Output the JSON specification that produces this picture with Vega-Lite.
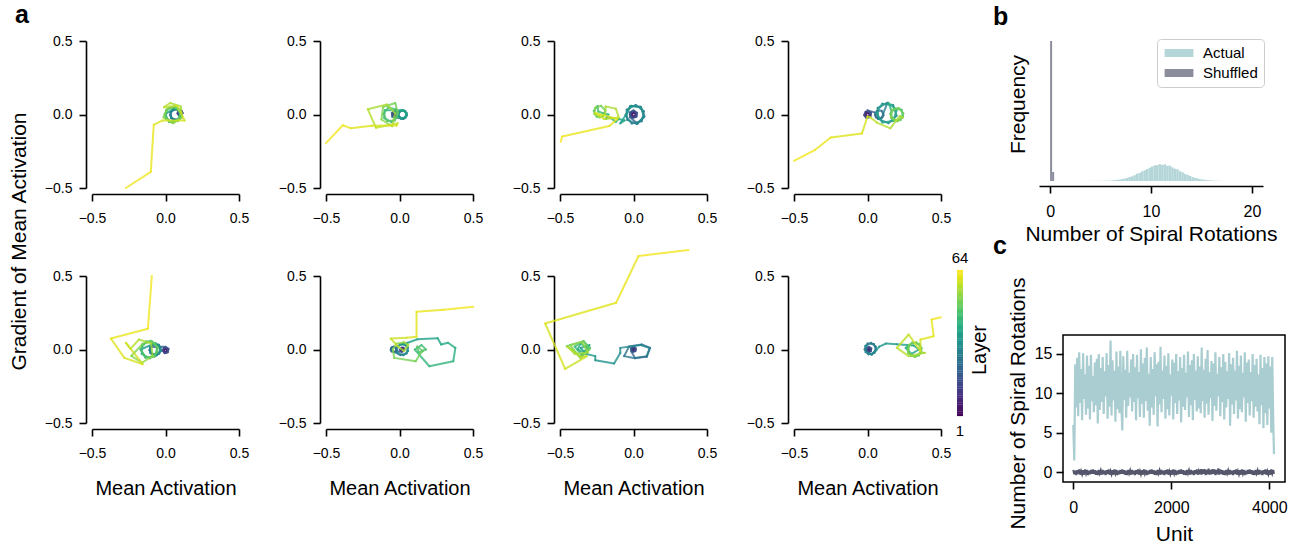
{
"$schema":"https://vega.github.io/schema/vega-lite/v6.json",
"background":"white",
"padding":{"left":8,"top":3,"right":5,"bottom":5},
"config":{
 "font":"Liberation Sans",
 "view":{"stroke":null},
 "axis":{"domainColor":"#000","domainWidth":1.6,"tickColor":"#000","tickWidth":1.6,"tickSize":7,"labelFontSize":14,"labelColor":"#000","titleFontSize":21,"titleFontWeight":"normal","titleColor":"#000","grid":false,"labelFont":"Liberation Sans","titleFont":"Liberation Sans","labelFlush":false},
 "axisX":{"labelPadding":10},
 "axisY":{"labelPadding":7},
 "title":{"fontSize":25,"fontWeight":"bold","anchor":"start","frame":"group","font":"Liberation Sans","color":"#000"}
},
"resolve":{"scale":{"color":"independent"}},
"datasets":{
"traj":[
{"p":1,"l":1,"x":0.103,"y":0.018},{"p":1,"l":2,"x":0.094,"y":0.017},{"p":1,"l":3,"x":0.090,"y":0.008},{"p":1,"l":4,"x":0.098,"y":-0.001},{"p":1,"l":5,"x":0.110,"y":0.003},{"p":1,"l":6,"x":0.111,"y":0.017},{"p":1,"l":7,"x":0.099,"y":0.024},{"p":1,"l":8,"x":0.087,"y":0.015},{"p":1,"l":9,"x":0.089,"y":-0.001},{"p":1,"l":10,"x":0.106,"y":-0.006},{"p":1,"l":11,"x":0.117,"y":0.009},{"p":1,"l":12,"x":0.109,"y":0.026},{"p":1,"l":13,"x":0.089,"y":0.026},{"p":1,"l":14,"x":0.081,"y":0.007},{"p":1,"l":15,"x":0.095,"y":-0.010},{"p":1,"l":16,"x":0.101,"y":-0.026},{"p":1,"l":17,"x":0.106,"y":0.017},{"p":1,"l":18,"x":0.070,"y":0.040},{"p":1,"l":19,"x":0.034,"y":0.017},{"p":1,"l":20,"x":0.039,"y":-0.026},{"p":1,"l":21,"x":0.080,"y":-0.039},{"p":1,"l":22,"x":0.109,"y":-0.007},{"p":1,"l":23,"x":0.093,"y":0.033},{"p":1,"l":24,"x":0.050,"y":0.035},{"p":1,"l":25,"x":0.030,"y":-0.004},{"p":1,"l":26,"x":0.056,"y":-0.038},{"p":1,"l":27,"x":0.098,"y":-0.028},{"p":1,"l":28,"x":0.108,"y":0.014},{"p":1,"l":29,"x":0.074,"y":0.040},{"p":1,"l":30,"x":0.035,"y":0.020},{"p":1,"l":31,"x":0.037,"y":-0.023},{"p":1,"l":32,"x":0.077,"y":-0.039},{"p":1,"l":33,"x":0.109,"y":-0.010},{"p":1,"l":34,"x":0.096,"y":0.031},{"p":1,"l":35,"x":0.053,"y":0.036},{"p":1,"l":36,"x":-0.005,"y":0.000},{"p":1,"l":37,"x":0.027,"y":-0.050},{"p":1,"l":38,"x":0.085,"y":-0.042},{"p":1,"l":39,"x":0.103,"y":0.014},{"p":1,"l":40,"x":0.059,"y":0.054},{"p":1,"l":41,"x":0.005,"y":0.031},{"p":1,"l":42,"x":0.002,"y":-0.028},{"p":1,"l":43,"x":0.055,"y":-0.055},{"p":1,"l":44,"x":0.102,"y":-0.019},{"p":1,"l":45,"x":0.089,"y":0.039},{"p":1,"l":46,"x":0.031,"y":0.052},{"p":1,"l":47,"x":-0.005,"y":0.005},{"p":1,"l":48,"x":0.023,"y":-0.048},{"p":1,"l":49,"x":0.081,"y":-0.045},{"p":1,"l":50,"x":0.104,"y":0.009},{"p":1,"l":51,"x":0.064,"y":0.053},{"p":1,"l":52,"x":0.008,"y":0.035},{"p":1,"l":53,"x":-0.014,"y":-0.019},{"p":1,"l":54,"x":0.050,"y":-0.060},{"p":1,"l":55,"x":0.114,"y":-0.019},{"p":1,"l":56,"x":0.104,"y":0.055},{"p":1,"l":57,"x":0.032,"y":0.078},{"p":1,"l":58,"x":-0.010,"y":0.050},{"p":1,"l":59,"x":0.080,"y":0.060},{"p":1,"l":60,"x":0.130,"y":-0.040},{"p":1,"l":61,"x":-0.020,"y":-0.040},{"p":1,"l":62,"x":-0.080,"y":-0.070},{"p":1,"l":63,"x":-0.100,"y":-0.390},{"p":1,"l":64,"x":-0.270,"y":-0.500},
{"p":2,"l":1,"x":-0.027,"y":0.008},{"p":2,"l":2,"x":-0.036,"y":0.007},{"p":2,"l":3,"x":-0.040,"y":-0.003},{"p":2,"l":4,"x":-0.032,"y":-0.011},{"p":2,"l":5,"x":-0.020,"y":-0.007},{"p":2,"l":6,"x":-0.019,"y":0.006},{"p":2,"l":7,"x":-0.031,"y":0.014},{"p":2,"l":8,"x":-0.044,"y":0.005},{"p":2,"l":9,"x":-0.041,"y":-0.011},{"p":2,"l":10,"x":-0.025,"y":-0.015},{"p":2,"l":11,"x":-0.013,"y":-0.001},{"p":2,"l":12,"x":-0.021,"y":0.016},{"p":2,"l":13,"x":-0.041,"y":0.016},{"p":2,"l":14,"x":-0.049,"y":-0.003},{"p":2,"l":15,"x":-0.035,"y":-0.020},{"p":2,"l":16,"x":-0.014,"y":-0.014},{"p":2,"l":17,"x":-0.009,"y":0.009},{"p":2,"l":18,"x":-0.030,"y":0.023},{"p":2,"l":19,"x":-0.052,"y":0.010},{"p":2,"l":20,"x":-0.049,"y":-0.016},{"p":2,"l":21,"x":0.028,"y":-0.029},{"p":2,"l":22,"x":0.049,"y":-0.005},{"p":2,"l":23,"x":0.037,"y":0.025},{"p":2,"l":24,"x":0.005,"y":0.026},{"p":2,"l":25,"x":-0.010,"y":-0.003},{"p":2,"l":26,"x":0.010,"y":-0.028},{"p":2,"l":27,"x":0.041,"y":-0.021},{"p":2,"l":28,"x":0.048,"y":0.010},{"p":2,"l":29,"x":0.023,"y":0.030},{"p":2,"l":30,"x":-0.006,"y":0.015},{"p":2,"l":31,"x":-0.005,"y":-0.017},{"p":2,"l":32,"x":0.025,"y":-0.029},{"p":2,"l":33,"x":0.049,"y":-0.008},{"p":2,"l":34,"x":0.039,"y":0.023},{"p":2,"l":35,"x":0.007,"y":0.027},{"p":2,"l":36,"x":-0.010,"y":0.000},{"p":2,"l":37,"x":0.007,"y":-0.027},{"p":2,"l":38,"x":0.039,"y":-0.023},{"p":2,"l":39,"x":0.049,"y":0.008},{"p":2,"l":40,"x":0.025,"y":0.029},{"p":2,"l":41,"x":-0.101,"y":0.029},{"p":2,"l":42,"x":-0.104,"y":-0.025},{"p":2,"l":43,"x":-0.056,"y":-0.050},{"p":2,"l":44,"x":-0.013,"y":-0.017},{"p":2,"l":45,"x":-0.025,"y":0.036},{"p":2,"l":46,"x":-0.077,"y":0.047},{"p":2,"l":47,"x":-0.110,"y":0.005},{"p":2,"l":48,"x":-0.085,"y":-0.044},{"p":2,"l":49,"x":-0.032,"y":-0.041},{"p":2,"l":50,"x":-0.011,"y":0.009},{"p":2,"l":51,"x":-0.029,"y":0.078},{"p":2,"l":52,"x":-0.112,"y":0.051},{"p":2,"l":53,"x":-0.123,"y":-0.034},{"p":2,"l":54,"x":-0.050,"y":-0.080},{"p":2,"l":55,"x":-0.030,"y":0.010},{"p":2,"l":56,"x":-0.086,"y":0.068},{"p":2,"l":57,"x":-0.216,"y":0.036},{"p":2,"l":58,"x":-0.160,"y":-0.090},{"p":2,"l":59,"x":-0.012,"y":-0.060},{"p":2,"l":60,"x":-0.020,"y":-0.075},{"p":2,"l":61,"x":-0.190,"y":-0.077},{"p":2,"l":62,"x":-0.333,"y":-0.093},{"p":2,"l":63,"x":-0.386,"y":-0.073},{"p":2,"l":64,"x":-0.500,"y":-0.195},
{"p":3,"l":1,"x":0.004,"y":0.009},{"p":3,"l":2,"x":-0.007,"y":0.009},{"p":3,"l":3,"x":-0.012,"y":-0.003},{"p":3,"l":4,"x":-0.002,"y":-0.013},{"p":3,"l":5,"x":0.012,"y":-0.008},{"p":3,"l":6,"x":0.013,"y":0.008},{"p":3,"l":7,"x":-0.002,"y":0.016},{"p":3,"l":8,"x":-0.016,"y":0.006},{"p":3,"l":9,"x":-0.013,"y":-0.013},{"p":3,"l":10,"x":0.007,"y":-0.018},{"p":3,"l":11,"x":0.021,"y":-0.002},{"p":3,"l":12,"x":0.011,"y":0.019},{"p":3,"l":13,"x":-0.013,"y":0.019},{"p":3,"l":14,"x":-0.023,"y":-0.004},{"p":3,"l":15,"x":-0.007,"y":-0.024},{"p":3,"l":16,"x":0.020,"y":-0.016},{"p":3,"l":17,"x":0.024,"y":0.012},{"p":3,"l":18,"x":0.000,"y":0.028},{"p":3,"l":19,"x":-0.026,"y":0.013},{"p":3,"l":20,"x":-0.023,"y":-0.019},{"p":3,"l":21,"x":0.027,"y":-0.063},{"p":3,"l":22,"x":0.074,"y":-0.011},{"p":3,"l":23,"x":0.047,"y":0.053},{"p":3,"l":24,"x":-0.023,"y":0.057},{"p":3,"l":25,"x":-0.055,"y":-0.006},{"p":3,"l":26,"x":-0.012,"y":-0.061},{"p":3,"l":27,"x":0.056,"y":-0.046},{"p":3,"l":28,"x":0.071,"y":0.022},{"p":3,"l":29,"x":0.016,"y":0.065},{"p":3,"l":30,"x":-0.047,"y":0.033},{"p":3,"l":31,"x":-0.043,"y":-0.037},{"p":3,"l":32,"x":0.021,"y":-0.064},{"p":3,"l":33,"x":0.073,"y":-0.017},{"p":3,"l":34,"x":0.052,"y":0.050},{"p":3,"l":35,"x":-0.017,"y":0.059},{"p":3,"l":36,"x":-0.050,"y":0.000},{"p":3,"l":37,"x":-0.090,"y":-0.060},{"p":3,"l":38,"x":-0.060,"y":-0.040},{"p":3,"l":39,"x":-0.100,"y":-0.030},{"p":3,"l":40,"x":-0.120,"y":-0.050},{"p":3,"l":41,"x":-0.160,"y":-0.020},{"p":3,"l":42,"x":-0.190,"y":-0.030},{"p":3,"l":43,"x":-0.170,"y":0.000},{"p":3,"l":44,"x":-0.210,"y":0.010},{"p":3,"l":45,"x":-0.240,"y":0.020},{"p":3,"l":46,"x":-0.244,"y":0.058},{"p":3,"l":47,"x":-0.270,"y":0.024},{"p":3,"l":48,"x":-0.250,"y":-0.015},{"p":3,"l":49,"x":-0.207,"y":-0.013},{"p":3,"l":50,"x":-0.191,"y":0.027},{"p":3,"l":51,"x":-0.220,"y":0.059},{"p":3,"l":52,"x":-0.261,"y":0.046},{"p":3,"l":53,"x":-0.266,"y":0.003},{"p":3,"l":54,"x":-0.230,"y":-0.020},{"p":3,"l":55,"x":-0.194,"y":0.003},{"p":3,"l":56,"x":-0.190,"y":0.054},{"p":3,"l":57,"x":-0.120,"y":0.040},{"p":3,"l":58,"x":-0.100,"y":-0.020},{"p":3,"l":59,"x":-0.200,"y":-0.030},{"p":3,"l":60,"x":-0.260,"y":0.010},{"p":3,"l":61,"x":-0.110,"y":-0.030},{"p":3,"l":62,"x":-0.165,"y":-0.078},{"p":3,"l":63,"x":-0.485,"y":-0.150},{"p":3,"l":64,"x":-0.496,"y":-0.186},
{"p":4,"l":1,"x":0.004,"y":0.009},{"p":4,"l":2,"x":-0.007,"y":0.009},{"p":4,"l":3,"x":-0.012,"y":-0.003},{"p":4,"l":4,"x":-0.002,"y":-0.013},{"p":4,"l":5,"x":0.012,"y":-0.008},{"p":4,"l":6,"x":0.013,"y":0.008},{"p":4,"l":7,"x":-0.002,"y":0.016},{"p":4,"l":8,"x":-0.016,"y":0.006},{"p":4,"l":9,"x":-0.013,"y":-0.013},{"p":4,"l":10,"x":0.007,"y":-0.018},{"p":4,"l":11,"x":0.021,"y":-0.002},{"p":4,"l":12,"x":0.011,"y":0.019},{"p":4,"l":13,"x":-0.013,"y":0.019},{"p":4,"l":14,"x":-0.023,"y":-0.004},{"p":4,"l":15,"x":-0.007,"y":-0.024},{"p":4,"l":16,"x":0.020,"y":-0.016},{"p":4,"l":17,"x":0.024,"y":0.012},{"p":4,"l":18,"x":0.000,"y":0.028},{"p":4,"l":19,"x":0.053,"y":0.013},{"p":4,"l":20,"x":0.057,"y":-0.019},{"p":4,"l":21,"x":0.088,"y":-0.029},{"p":4,"l":22,"x":0.109,"y":-0.005},{"p":4,"l":23,"x":0.097,"y":0.025},{"p":4,"l":24,"x":0.065,"y":0.026},{"p":4,"l":25,"x":0.050,"y":-0.003},{"p":4,"l":26,"x":0.070,"y":-0.028},{"p":4,"l":27,"x":0.101,"y":-0.021},{"p":4,"l":28,"x":0.108,"y":0.010},{"p":4,"l":29,"x":0.136,"y":0.080},{"p":4,"l":30,"x":0.069,"y":0.045},{"p":4,"l":31,"x":0.073,"y":-0.030},{"p":4,"l":32,"x":0.142,"y":-0.059},{"p":4,"l":33,"x":0.198,"y":-0.008},{"p":4,"l":34,"x":0.175,"y":0.064},{"p":4,"l":35,"x":0.101,"y":0.074},{"p":4,"l":36,"x":0.060,"y":0.010},{"p":4,"l":37,"x":0.101,"y":-0.054},{"p":4,"l":38,"x":0.175,"y":-0.044},{"p":4,"l":39,"x":0.198,"y":0.028},{"p":4,"l":40,"x":0.142,"y":0.079},{"p":4,"l":41,"x":0.163,"y":0.026},{"p":4,"l":42,"x":0.161,"y":-0.023},{"p":4,"l":43,"x":0.204,"y":-0.045},{"p":4,"l":44,"x":0.242,"y":-0.015},{"p":4,"l":45,"x":0.232,"y":0.032},{"p":4,"l":46,"x":0.185,"y":0.042},{"p":4,"l":47,"x":0.155,"y":0.004},{"p":4,"l":48,"x":0.178,"y":-0.039},{"p":4,"l":49,"x":0.226,"y":-0.037},{"p":4,"l":50,"x":0.244,"y":0.008},{"p":4,"l":51,"x":0.212,"y":0.044},{"p":4,"l":52,"x":0.165,"y":0.029},{"p":4,"l":53,"x":0.159,"y":-0.019},{"p":4,"l":54,"x":0.200,"y":-0.045},{"p":4,"l":55,"x":0.241,"y":-0.019},{"p":4,"l":56,"x":0.220,"y":-0.010},{"p":4,"l":57,"x":0.155,"y":-0.094},{"p":4,"l":58,"x":0.064,"y":-0.055},{"p":4,"l":59,"x":0.020,"y":-0.020},{"p":4,"l":60,"x":0.000,"y":-0.014},{"p":4,"l":61,"x":-0.038,"y":-0.130},{"p":4,"l":62,"x":-0.250,"y":-0.157},{"p":4,"l":63,"x":-0.356,"y":-0.240},{"p":4,"l":64,"x":-0.500,"y":-0.315},
{"p":5,"l":1,"x":0.004,"y":0.003},{"p":5,"l":2,"x":-0.006,"y":0.002},{"p":5,"l":3,"x":-0.010,"y":-0.008},{"p":5,"l":4,"x":-0.002,"y":-0.016},{"p":5,"l":5,"x":0.010,"y":-0.012},{"p":5,"l":6,"x":0.011,"y":0.002},{"p":5,"l":7,"x":-0.001,"y":0.009},{"p":5,"l":8,"x":-0.014,"y":0.000},{"p":5,"l":9,"x":-0.011,"y":-0.016},{"p":5,"l":10,"x":0.006,"y":-0.021},{"p":5,"l":11,"x":0.017,"y":-0.006},{"p":5,"l":12,"x":0.009,"y":0.011},{"p":5,"l":13,"x":-0.011,"y":0.011},{"p":5,"l":14,"x":-0.020,"y":-0.008},{"p":5,"l":15,"x":-0.006,"y":-0.025},{"p":5,"l":16,"x":0.016,"y":-0.019},{"p":5,"l":17,"x":0.021,"y":0.005},{"p":5,"l":18,"x":0.000,"y":0.018},{"p":5,"l":19,"x":-0.106,"y":0.017},{"p":5,"l":20,"x":-0.101,"y":-0.026},{"p":5,"l":21,"x":-0.060,"y":-0.039},{"p":5,"l":22,"x":-0.031,"y":-0.007},{"p":5,"l":23,"x":-0.047,"y":0.033},{"p":5,"l":24,"x":-0.090,"y":0.035},{"p":5,"l":25,"x":-0.110,"y":-0.004},{"p":5,"l":26,"x":-0.084,"y":-0.038},{"p":5,"l":27,"x":-0.042,"y":-0.028},{"p":5,"l":28,"x":-0.032,"y":0.014},{"p":5,"l":29,"x":-0.066,"y":0.040},{"p":5,"l":30,"x":-0.105,"y":0.020},{"p":5,"l":31,"x":-0.103,"y":-0.023},{"p":5,"l":32,"x":-0.063,"y":-0.039},{"p":5,"l":33,"x":-0.031,"y":-0.010},{"p":5,"l":34,"x":-0.044,"y":0.031},{"p":5,"l":35,"x":-0.087,"y":0.036},{"p":5,"l":36,"x":-0.170,"y":0.000},{"p":5,"l":37,"x":-0.135,"y":-0.055},{"p":5,"l":38,"x":-0.072,"y":-0.046},{"p":5,"l":39,"x":-0.052,"y":0.016},{"p":5,"l":40,"x":-0.100,"y":0.059},{"p":5,"l":41,"x":-0.159,"y":0.034},{"p":5,"l":42,"x":-0.162,"y":-0.030},{"p":5,"l":43,"x":-0.105,"y":-0.060},{"p":5,"l":44,"x":-0.054,"y":-0.020},{"p":5,"l":45,"x":-0.067,"y":0.043},{"p":5,"l":46,"x":-0.130,"y":0.056},{"p":5,"l":47,"x":-0.170,"y":0.005},{"p":5,"l":48,"x":-0.140,"y":-0.052},{"p":5,"l":49,"x":-0.076,"y":-0.049},{"p":5,"l":50,"x":-0.051,"y":0.010},{"p":5,"l":51,"x":-0.094,"y":0.058},{"p":5,"l":52,"x":-0.156,"y":0.038},{"p":5,"l":53,"x":-0.233,"y":-0.044},{"p":5,"l":54,"x":-0.160,"y":-0.090},{"p":5,"l":55,"x":-0.087,"y":-0.044},{"p":5,"l":56,"x":-0.098,"y":0.041},{"p":5,"l":57,"x":-0.181,"y":0.068},{"p":5,"l":58,"x":-0.238,"y":0.004},{"p":5,"l":59,"x":-0.270,"y":0.046},{"p":5,"l":60,"x":-0.155,"y":-0.100},{"p":5,"l":61,"x":-0.280,"y":-0.057},{"p":5,"l":62,"x":-0.372,"y":0.075},{"p":5,"l":63,"x":-0.120,"y":0.141},{"p":5,"l":64,"x":-0.093,"y":0.500},
{"p":6,"l":1,"x":0.023,"y":0.006},{"p":6,"l":2,"x":0.015,"y":0.006},{"p":6,"l":3,"x":0.012,"y":-0.002},{"p":6,"l":4,"x":0.019,"y":-0.009},{"p":6,"l":5,"x":0.028,"y":-0.005},{"p":6,"l":6,"x":0.029,"y":0.005},{"p":6,"l":7,"x":0.019,"y":0.011},{"p":6,"l":8,"x":0.009,"y":0.004},{"p":6,"l":9,"x":0.011,"y":-0.009},{"p":6,"l":10,"x":0.025,"y":-0.012},{"p":6,"l":11,"x":0.034,"y":-0.001},{"p":6,"l":12,"x":0.027,"y":0.012},{"p":6,"l":13,"x":0.012,"y":0.012},{"p":6,"l":14,"x":0.004,"y":-0.002},{"p":6,"l":15,"x":0.016,"y":-0.016},{"p":6,"l":16,"x":-0.025,"y":-0.013},{"p":6,"l":17,"x":-0.022,"y":0.008},{"p":6,"l":18,"x":-0.040,"y":0.020},{"p":6,"l":19,"x":-0.058,"y":0.008},{"p":6,"l":20,"x":-0.055,"y":-0.013},{"p":6,"l":21,"x":-0.035,"y":-0.019},{"p":6,"l":22,"x":-0.020,"y":-0.003},{"p":6,"l":23,"x":-0.029,"y":0.016},{"p":6,"l":24,"x":-0.050,"y":0.017},{"p":6,"l":25,"x":-0.060,"y":-0.002},{"p":6,"l":26,"x":0.006,"y":-0.038},{"p":6,"l":27,"x":0.048,"y":-0.028},{"p":6,"l":28,"x":0.058,"y":0.014},{"p":6,"l":29,"x":0.024,"y":0.040},{"p":6,"l":30,"x":-0.015,"y":0.020},{"p":6,"l":31,"x":-0.013,"y":-0.023},{"p":6,"l":32,"x":0.027,"y":-0.039},{"p":6,"l":33,"x":0.059,"y":-0.010},{"p":6,"l":34,"x":0.046,"y":0.031},{"p":6,"l":35,"x":0.000,"y":0.036},{"p":6,"l":36,"x":0.056,"y":0.046},{"p":6,"l":37,"x":0.122,"y":0.070},{"p":6,"l":38,"x":0.260,"y":0.077},{"p":6,"l":39,"x":0.283,"y":0.034},{"p":6,"l":40,"x":0.330,"y":0.046},{"p":6,"l":41,"x":0.380,"y":0.011},{"p":6,"l":42,"x":0.366,"y":-0.080},{"p":6,"l":43,"x":0.203,"y":-0.114},{"p":6,"l":44,"x":0.104,"y":0.000},{"p":6,"l":45,"x":0.150,"y":0.030},{"p":6,"l":46,"x":0.180,"y":0.000},{"p":6,"l":47,"x":0.130,"y":-0.020},{"p":6,"l":48,"x":0.120,"y":0.020},{"p":6,"l":49,"x":0.160,"y":-0.010},{"p":6,"l":50,"x":0.140,"y":-0.030},{"p":6,"l":51,"x":0.110,"y":-0.080},{"p":6,"l":52,"x":-0.036,"y":-0.057},{"p":6,"l":53,"x":-0.045,"y":0.000},{"p":6,"l":54,"x":-0.020,"y":0.040},{"p":6,"l":55,"x":0.030,"y":0.050},{"p":6,"l":56,"x":0.060,"y":0.030},{"p":6,"l":57,"x":0.030,"y":-0.010},{"p":6,"l":58,"x":-0.010,"y":0.020},{"p":6,"l":59,"x":-0.060,"y":0.075},{"p":6,"l":60,"x":0.050,"y":0.080},{"p":6,"l":61,"x":0.116,"y":0.087},{"p":6,"l":62,"x":0.116,"y":0.257},{"p":6,"l":63,"x":0.300,"y":0.270},{"p":6,"l":64,"x":0.503,"y":0.290},
{"p":7,"l":1,"x":0.003,"y":0.006},{"p":7,"l":2,"x":-0.005,"y":0.006},{"p":7,"l":3,"x":-0.008,"y":-0.002},{"p":7,"l":4,"x":-0.001,"y":-0.009},{"p":7,"l":5,"x":0.008,"y":-0.005},{"p":7,"l":6,"x":0.009,"y":0.005},{"p":7,"l":7,"x":-0.001,"y":0.011},{"p":7,"l":8,"x":-0.011,"y":0.004},{"p":7,"l":9,"x":-0.009,"y":-0.009},{"p":7,"l":10,"x":0.005,"y":-0.012},{"p":7,"l":11,"x":0.014,"y":-0.001},{"p":7,"l":12,"x":0.007,"y":0.012},{"p":7,"l":13,"x":-0.008,"y":0.012},{"p":7,"l":14,"x":-0.016,"y":-0.002},{"p":7,"l":15,"x":-0.004,"y":-0.016},{"p":7,"l":16,"x":0.013,"y":-0.011},{"p":7,"l":17,"x":0.016,"y":0.007},{"p":7,"l":18,"x":0.000,"y":0.019},{"p":7,"l":19,"x":-0.017,"y":0.008},{"p":7,"l":20,"x":-0.015,"y":-0.013},{"p":7,"l":21,"x":0.010,"y":-0.057},{"p":7,"l":22,"x":0.090,"y":-0.050},{"p":7,"l":23,"x":0.113,"y":0.011},{"p":7,"l":24,"x":0.056,"y":0.034},{"p":7,"l":25,"x":-0.030,"y":0.020},{"p":7,"l":26,"x":-0.064,"y":-0.045},{"p":7,"l":27,"x":0.010,"y":-0.060},{"p":7,"l":28,"x":0.090,"y":-0.045},{"p":7,"l":29,"x":0.110,"y":0.010},{"p":7,"l":30,"x":0.050,"y":0.030},{"p":7,"l":31,"x":-0.090,"y":0.011},{"p":7,"l":32,"x":-0.090,"y":-0.023},{"p":7,"l":33,"x":-0.132,"y":-0.095},{"p":7,"l":34,"x":-0.260,"y":-0.073},{"p":7,"l":35,"x":-0.260,"y":-0.045},{"p":7,"l":36,"x":-0.320,"y":-0.030},{"p":7,"l":37,"x":-0.360,"y":0.010},{"p":7,"l":38,"x":-0.300,"y":0.030},{"p":7,"l":39,"x":-0.340,"y":-0.020},{"p":7,"l":40,"x":-0.380,"y":0.000},{"p":7,"l":41,"x":-0.360,"y":0.040},{"p":7,"l":42,"x":-0.310,"y":0.010},{"p":7,"l":43,"x":-0.350,"y":-0.040},{"p":7,"l":44,"x":-0.400,"y":0.020},{"p":7,"l":45,"x":-0.340,"y":0.057},{"p":7,"l":46,"x":-0.295,"y":0.011},{"p":7,"l":47,"x":-0.363,"y":-0.050},{"p":7,"l":48,"x":-0.420,"y":0.000},{"p":7,"l":49,"x":-0.454,"y":0.023},{"p":7,"l":50,"x":-0.340,"y":0.057},{"p":7,"l":51,"x":-0.300,"y":0.000},{"p":7,"l":52,"x":-0.360,"y":-0.060},{"p":7,"l":53,"x":-0.430,"y":0.030},{"p":7,"l":54,"x":-0.350,"y":0.050},{"p":7,"l":55,"x":-0.310,"y":-0.020},{"p":7,"l":56,"x":-0.400,"y":-0.030},{"p":7,"l":57,"x":-0.450,"y":0.020},{"p":7,"l":58,"x":-0.363,"y":-0.050},{"p":7,"l":59,"x":-0.318,"y":-0.046},{"p":7,"l":60,"x":-0.465,"y":-0.132},{"p":7,"l":61,"x":-0.601,"y":0.177},{"p":7,"l":62,"x":-0.118,"y":0.318},{"p":7,"l":63,"x":0.034,"y":0.636},{"p":7,"l":64,"x":0.374,"y":0.677},
{"p":8,"l":1,"x":0.013,"y":0.006},{"p":8,"l":2,"x":0.005,"y":0.006},{"p":8,"l":3,"x":0.002,"y":-0.002},{"p":8,"l":4,"x":0.009,"y":-0.009},{"p":8,"l":5,"x":0.018,"y":-0.005},{"p":8,"l":6,"x":0.019,"y":0.005},{"p":8,"l":7,"x":0.009,"y":0.011},{"p":8,"l":8,"x":-0.001,"y":0.004},{"p":8,"l":9,"x":0.001,"y":-0.009},{"p":8,"l":10,"x":0.015,"y":-0.012},{"p":8,"l":11,"x":0.024,"y":-0.001},{"p":8,"l":12,"x":0.017,"y":0.012},{"p":8,"l":13,"x":0.002,"y":0.012},{"p":8,"l":14,"x":-0.006,"y":-0.002},{"p":8,"l":15,"x":0.006,"y":-0.016},{"p":8,"l":16,"x":0.023,"y":-0.011},{"p":8,"l":17,"x":0.026,"y":0.007},{"p":8,"l":18,"x":0.010,"y":0.019},{"p":8,"l":19,"x":-0.007,"y":0.008},{"p":8,"l":20,"x":-0.005,"y":-0.013},{"p":8,"l":21,"x":0.030,"y":-0.034},{"p":8,"l":22,"x":0.059,"y":-0.002},{"p":8,"l":23,"x":0.043,"y":0.038},{"p":8,"l":24,"x":0.000,"y":0.040},{"p":8,"l":25,"x":-0.020,"y":0.001},{"p":8,"l":26,"x":0.006,"y":-0.033},{"p":8,"l":27,"x":0.048,"y":-0.023},{"p":8,"l":28,"x":0.058,"y":0.019},{"p":8,"l":29,"x":0.024,"y":0.045},{"p":8,"l":30,"x":-0.015,"y":0.025},{"p":8,"l":31,"x":-0.013,"y":-0.018},{"p":8,"l":32,"x":0.027,"y":-0.034},{"p":8,"l":33,"x":0.060,"y":-0.005},{"p":8,"l":34,"x":0.080,"y":0.020},{"p":8,"l":35,"x":0.127,"y":0.041},{"p":8,"l":36,"x":0.200,"y":0.035},{"p":8,"l":37,"x":0.313,"y":0.027},{"p":8,"l":38,"x":0.350,"y":0.000},{"p":8,"l":39,"x":0.300,"y":-0.030},{"p":8,"l":40,"x":0.260,"y":0.010},{"p":8,"l":41,"x":0.279,"y":0.029},{"p":8,"l":42,"x":0.277,"y":-0.025},{"p":8,"l":43,"x":0.325,"y":-0.050},{"p":8,"l":44,"x":0.367,"y":-0.017},{"p":8,"l":45,"x":0.356,"y":0.036},{"p":8,"l":46,"x":0.303,"y":0.047},{"p":8,"l":47,"x":0.270,"y":0.005},{"p":8,"l":48,"x":0.295,"y":-0.044},{"p":8,"l":49,"x":0.349,"y":-0.041},{"p":8,"l":50,"x":0.369,"y":0.009},{"p":8,"l":51,"x":0.333,"y":0.049},{"p":8,"l":52,"x":0.282,"y":0.032},{"p":8,"l":53,"x":0.275,"y":-0.021},{"p":8,"l":54,"x":0.320,"y":-0.050},{"p":8,"l":55,"x":0.366,"y":-0.021},{"p":8,"l":56,"x":0.390,"y":-0.023},{"p":8,"l":57,"x":0.280,"y":-0.045},{"p":8,"l":58,"x":0.200,"y":0.011},{"p":8,"l":59,"x":0.280,"y":0.102},{"p":8,"l":60,"x":0.360,"y":-0.011},{"p":8,"l":61,"x":0.360,"y":0.068},{"p":8,"l":62,"x":0.450,"y":0.090},{"p":8,"l":63,"x":0.436,"y":0.204},{"p":8,"l":64,"x":0.500,"y":0.220}
],
"hist":[
{"g":"Shuffled","b0":0,"b1":0.2,"n":1000},{"g":"Shuffled","b0":0.2,"b1":0.4,"n":64},
{"g":"Actual","b0":4.0,"b1":4.25,"n":1},{"g":"Actual","b0":4.25,"b1":4.5,"n":1},{"g":"Actual","b0":4.5,"b1":4.75,"n":1},{"g":"Actual","b0":4.75,"b1":5.0,"n":1},{"g":"Actual","b0":5.0,"b1":5.25,"n":1},{"g":"Actual","b0":5.25,"b1":5.5,"n":2},{"g":"Actual","b0":5.5,"b1":5.75,"n":2},{"g":"Actual","b0":5.75,"b1":6.0,"n":3},{"g":"Actual","b0":6.0,"b1":6.25,"n":4},{"g":"Actual","b0":6.25,"b1":6.5,"n":6},{"g":"Actual","b0":6.5,"b1":6.75,"n":8},{"g":"Actual","b0":6.75,"b1":7.0,"n":10},{"g":"Actual","b0":7.0,"b1":7.25,"n":14},{"g":"Actual","b0":7.25,"b1":7.5,"n":17},{"g":"Actual","b0":7.5,"b1":7.75,"n":22},{"g":"Actual","b0":7.75,"b1":8.0,"n":28},{"g":"Actual","b0":8.0,"b1":8.25,"n":34},{"g":"Actual","b0":8.25,"b1":8.5,"n":41},{"g":"Actual","b0":8.5,"b1":8.75,"n":52},{"g":"Actual","b0":8.75,"b1":9.0,"n":58},{"g":"Actual","b0":9.0,"b1":9.25,"n":69},{"g":"Actual","b0":9.25,"b1":9.5,"n":77},{"g":"Actual","b0":9.5,"b1":9.75,"n":86},{"g":"Actual","b0":9.75,"b1":10.0,"n":95},{"g":"Actual","b0":10.0,"b1":10.25,"n":104},{"g":"Actual","b0":10.25,"b1":10.5,"n":112},{"g":"Actual","b0":10.5,"b1":10.75,"n":114},{"g":"Actual","b0":10.75,"b1":11.0,"n":120},{"g":"Actual","b0":11.0,"b1":11.25,"n":115},{"g":"Actual","b0":11.25,"b1":11.5,"n":119},{"g":"Actual","b0":11.5,"b1":11.75,"n":108},{"g":"Actual","b0":11.75,"b1":12.0,"n":110},{"g":"Actual","b0":12.0,"b1":12.25,"n":97},{"g":"Actual","b0":12.25,"b1":12.5,"n":88},{"g":"Actual","b0":12.5,"b1":12.75,"n":84},{"g":"Actual","b0":12.75,"b1":13.0,"n":70},{"g":"Actual","b0":13.0,"b1":13.25,"n":62},{"g":"Actual","b0":13.25,"b1":13.5,"n":50},{"g":"Actual","b0":13.5,"b1":13.75,"n":44},{"g":"Actual","b0":13.75,"b1":14.0,"n":35},{"g":"Actual","b0":14.0,"b1":14.25,"n":28},{"g":"Actual","b0":14.25,"b1":14.5,"n":22},{"g":"Actual","b0":14.5,"b1":14.75,"n":18},{"g":"Actual","b0":14.75,"b1":15.0,"n":13},{"g":"Actual","b0":15.0,"b1":15.25,"n":10},{"g":"Actual","b0":15.25,"b1":15.5,"n":8},{"g":"Actual","b0":15.5,"b1":15.75,"n":6},{"g":"Actual","b0":15.75,"b1":16.0,"n":4},{"g":"Actual","b0":16.0,"b1":16.25,"n":3},{"g":"Actual","b0":16.25,"b1":16.5,"n":2},{"g":"Actual","b0":16.5,"b1":16.75,"n":2},{"g":"Actual","b0":16.75,"b1":17.0,"n":1},{"g":"Actual","b0":17.0,"b1":17.25,"n":1}
],
"units":[
{"u":0,"a":6.0,"s":0.3},{"u":20,"a":1.5,"s":-0.25},{"u":40,"a":13.7,"s":0.2},{"u":60,"a":8.2,"s":-0.35},{"u":80,"a":14.5,"s":0.25},{"u":100,"a":7.1,"s":-0.2},{"u":120,"a":15.2,"s":0.35},{"u":140,"a":8.8,"s":-0.3},{"u":160,"a":13.1,"s":0.15},{"u":180,"a":6.6,"s":-0.25},
{"u":200,"a":15.1,"s":0.25},{"u":220,"a":9.3,"s":-0.3},{"u":240,"a":12.4,"s":0.35},{"u":260,"a":7.3,"s":-0.15},{"u":280,"a":14.8,"s":0.3},{"u":300,"a":8.1,"s":-0.35},{"u":320,"a":13.5,"s":0.2},{"u":340,"a":6.7,"s":-0.25},{"u":360,"a":14.9,"s":0.3},{"u":380,"a":9.0,"s":-0.2},
{"u":400,"a":12.2,"s":0.35},{"u":420,"a":7.6,"s":-0.2},{"u":440,"a":13.9,"s":0.25},{"u":460,"a":8.5,"s":-0.3},{"u":480,"a":14.4,"s":0.2},{"u":500,"a":6.2,"s":-0.35},{"u":520,"a":15.0,"s":0.3},{"u":540,"a":7.9,"s":-0.15},{"u":560,"a":13.2,"s":0.25},{"u":580,"a":8.9,"s":-0.3},
{"u":600,"a":14.6,"s":0.3},{"u":620,"a":7.4,"s":-0.25},{"u":640,"a":12.8,"s":0.2},{"u":660,"a":9.6,"s":-0.35},{"u":680,"a":15.1,"s":0.25},{"u":700,"a":6.8,"s":-0.2},{"u":720,"a":13.6,"s":0.35},{"u":740,"a":8.3,"s":-0.3},{"u":760,"a":16.7,"s":0.15},{"u":780,"a":7.2,"s":-0.25},
{"u":800,"a":14.2,"s":0.25},{"u":820,"a":9.1,"s":-0.3},{"u":840,"a":12.9,"s":0.35},{"u":860,"a":6.4,"s":-0.15},{"u":880,"a":15.3,"s":0.3},{"u":900,"a":8.0,"s":-0.35},{"u":920,"a":13.4,"s":0.2},{"u":940,"a":7.5,"s":-0.25},{"u":960,"a":15.4,"s":0.3},{"u":980,"a":8.6,"s":-0.2},
{"u":1000,"a":5.3,"s":0.35},{"u":1020,"a":14.7,"s":-0.2},{"u":1040,"a":9.2,"s":0.25},{"u":1060,"a":13.0,"s":-0.3},{"u":1080,"a":6.9,"s":0.2},{"u":1100,"a":15.4,"s":-0.35},{"u":1120,"a":8.4,"s":0.3},{"u":1140,"a":12.6,"s":-0.15},{"u":1160,"a":9.5,"s":0.25},{"u":1180,"a":14.3,"s":-0.3},
{"u":1200,"a":7.7,"s":0.3},{"u":1220,"a":15.0,"s":-0.25},{"u":1240,"a":8.9,"s":0.2},{"u":1260,"a":13.3,"s":-0.35},{"u":1280,"a":6.6,"s":0.25},{"u":1300,"a":14.9,"s":-0.2},{"u":1320,"a":9.4,"s":0.35},{"u":1340,"a":12.7,"s":-0.3},{"u":1360,"a":7.0,"s":0.15},{"u":1380,"a":15.6,"s":-0.25},
{"u":1400,"a":8.7,"s":0.25},{"u":1420,"a":13.8,"s":-0.3},{"u":1440,"a":6.9,"s":0.35},{"u":1460,"a":14.5,"s":-0.15},{"u":1480,"a":9.0,"s":0.3},{"u":1500,"a":15.8,"s":-0.35},{"u":1520,"a":7.8,"s":0.2},{"u":1540,"a":12.5,"s":-0.25},{"u":1560,"a":5.9,"s":0.3},{"u":1580,"a":14.6,"s":-0.2},
{"u":1600,"a":8.2,"s":0.35},{"u":1620,"a":13.1,"s":-0.2},{"u":1640,"a":7.3,"s":0.25},{"u":1660,"a":15.2,"s":-0.3},{"u":1680,"a":9.6,"s":0.2},{"u":1700,"a":13.7,"s":-0.35},{"u":1720,"a":5.8,"s":0.3},{"u":1740,"a":14.0,"s":-0.15},{"u":1760,"a":8.6,"s":0.25},{"u":1780,"a":15.9,"s":-0.3},
{"u":1800,"a":7.6,"s":0.3},{"u":1820,"a":12.9,"s":-0.25},{"u":1840,"a":9.3,"s":0.2},{"u":1860,"a":14.8,"s":-0.35},{"u":1880,"a":6.8,"s":0.25},{"u":1900,"a":13.5,"s":-0.2},{"u":1920,"a":8.0,"s":0.35},{"u":1940,"a":15.1,"s":-0.3},{"u":1960,"a":7.2,"s":0.15},{"u":1980,"a":12.4,"s":-0.25},
{"u":2000,"a":9.7,"s":0.25},{"u":2020,"a":14.3,"s":-0.3},{"u":2040,"a":6.7,"s":0.35},{"u":2060,"a":13.9,"s":-0.15},{"u":2080,"a":8.8,"s":0.3},{"u":2100,"a":15.0,"s":-0.35},{"u":2120,"a":7.4,"s":0.2},{"u":2140,"a":12.8,"s":-0.25},{"u":2160,"a":9.1,"s":0.3},{"u":2180,"a":14.6,"s":-0.2},
{"u":2200,"a":6.3,"s":0.35},{"u":2220,"a":13.2,"s":-0.2},{"u":2240,"a":8.3,"s":0.25},{"u":2260,"a":14.9,"s":-0.3},{"u":2280,"a":7.9,"s":0.2},{"u":2300,"a":12.6,"s":-0.35},{"u":2320,"a":9.5,"s":0.3},{"u":2340,"a":15.3,"s":-0.15},{"u":2360,"a":7.0,"s":0.25},{"u":2380,"a":13.6,"s":-0.3},
{"u":2400,"a":8.5,"s":0.3},{"u":2420,"a":14.2,"s":-0.25},{"u":2440,"a":6.6,"s":0.2},{"u":2460,"a":15.0,"s":-0.35},{"u":2480,"a":9.2,"s":0.25},{"u":2500,"a":12.9,"s":-0.2},{"u":2520,"a":7.7,"s":0.35},{"u":2540,"a":14.7,"s":-0.3},{"u":2560,"a":8.1,"s":0.15},{"u":2580,"a":13.4,"s":-0.25},
{"u":2600,"a":7.5,"s":0.4},{"u":2620,"a":15.8,"s":-0.3},{"u":2640,"a":9.0,"s":0.35},{"u":2660,"a":13.0,"s":-0.2},{"u":2680,"a":6.9,"s":0.4},{"u":2700,"a":14.4,"s":-0.35},{"u":2720,"a":8.7,"s":0.3},{"u":2740,"a":15.5,"s":-0.25},{"u":2760,"a":7.3,"s":0.45},{"u":2780,"a":12.7,"s":-0.3},
{"u":2800,"a":9.4,"s":0.3},{"u":2820,"a":14.1,"s":-0.25},{"u":2840,"a":6.5,"s":0.4},{"u":2860,"a":13.8,"s":-0.2},{"u":2880,"a":8.4,"s":0.35},{"u":2900,"a":15.2,"s":-0.35},{"u":2920,"a":7.8,"s":0.3},{"u":2940,"a":12.5,"s":-0.25},{"u":2960,"a":9.6,"s":0.5},{"u":2980,"a":14.6,"s":-0.3},
{"u":3000,"a":7.1,"s":0.35},{"u":3020,"a":13.3,"s":-0.2},{"u":3040,"a":8.9,"s":0.25},{"u":3060,"a":15.0,"s":-0.3},{"u":3080,"a":6.7,"s":0.2},{"u":3100,"a":14.0,"s":-0.35},{"u":3120,"a":8.2,"s":0.3},{"u":3140,"a":12.8,"s":-0.15},{"u":3160,"a":9.3,"s":0.25},{"u":3180,"a":15.1,"s":-0.3},
{"u":3200,"a":5.9,"s":0.3},{"u":3220,"a":13.7,"s":-0.25},{"u":3240,"a":8.6,"s":0.2},{"u":3260,"a":14.5,"s":-0.35},{"u":3280,"a":7.4,"s":0.25},{"u":3300,"a":12.9,"s":-0.2},{"u":3320,"a":9.1,"s":0.35},{"u":3340,"a":15.4,"s":-0.3},{"u":3360,"a":6.8,"s":0.15},{"u":3380,"a":13.5,"s":-0.25},
{"u":3400,"a":8.0,"s":0.25},{"u":3420,"a":14.8,"s":-0.3},{"u":3440,"a":7.6,"s":0.35},{"u":3460,"a":12.6,"s":-0.15},{"u":3480,"a":9.5,"s":0.3},{"u":3500,"a":15.2,"s":-0.35},{"u":3520,"a":6.4,"s":0.2},{"u":3540,"a":13.9,"s":-0.25},{"u":3560,"a":8.8,"s":0.3},{"u":3580,"a":14.3,"s":-0.2},
{"u":3600,"a":7.2,"s":0.35},{"u":3620,"a":12.7,"s":-0.2},{"u":3640,"a":9.0,"s":0.25},{"u":3660,"a":15.0,"s":-0.3},{"u":3680,"a":6.9,"s":0.2},{"u":3700,"a":13.6,"s":-0.35},{"u":3720,"a":8.3,"s":0.3},{"u":3740,"a":14.4,"s":-0.15},{"u":3760,"a":7.7,"s":0.25},{"u":3780,"a":12.4,"s":-0.3},
{"u":3800,"a":6.1,"s":0.3},{"u":3820,"a":14.9,"s":-0.25},{"u":3840,"a":8.5,"s":0.2},{"u":3860,"a":13.2,"s":-0.35},{"u":3880,"a":5.6,"s":0.25},{"u":3900,"a":14.6,"s":-0.2},{"u":3920,"a":7.5,"s":0.35},{"u":3940,"a":13.8,"s":-0.3},{"u":3960,"a":6.0,"s":0.15},{"u":3980,"a":14.7,"s":-0.25},
{"u":4000,"a":8.1,"s":0.25},{"u":4020,"a":13.4,"s":-0.3},{"u":4040,"a":5.0,"s":0.35},{"u":4060,"a":14.6,"s":-0.15},{"u":4080,"a":6.5,"s":0.3},{"u":4095,"a":2.3,"s":-0.2}
]
},
"hconcat":[
{"vconcat":[
 {"hconcat":[
  {"width":147,"height":147,"data":{"name":"traj"},"title":{"text":"a","dx":-77,"offset":6,"fontSize":25},
   "transform":[{"filter":"datum.p==1"},{"window":[{"op":"lead","field":"x","as":"x2"},{"op":"lead","field":"y","as":"y2"}],"sort":[{"field":"l"}]},{"filter":"isValid(datum.x2)"}],
   "mark":{"type":"rule","strokeWidth":2,"strokeCap":"round","opacity":0.8},
   "encoding":{"x":{"field":"x","type":"quantitative","scale":{"domain":[-0.5,0.5],"nice":false,"zero":false},"axis":{"values":[-0.5,0,0.5],"format":".1f","offset":6,"title":null}},
    "y":{"field":"y","type":"quantitative","scale":{"domain":[-0.5,0.5],"nice":false,"zero":false},"axis":{"values":[-0.5,0,0.5],"format":".1f","offset":6,"title":null}},
    "x2":{"field":"x2"},"y2":{"field":"y2"},
    "color":{"field":"l","type":"quantitative","scale":{"scheme":"viridis","domain":[1,64]},"legend":null}}},
  {"width":147,"height":147,"data":{"name":"traj"},
   "transform":[{"filter":"datum.p==2"},{"window":[{"op":"lead","field":"x","as":"x2"},{"op":"lead","field":"y","as":"y2"}],"sort":[{"field":"l"}]},{"filter":"isValid(datum.x2)"}],
   "mark":{"type":"rule","strokeWidth":2,"strokeCap":"round","opacity":0.8},
   "encoding":{"x":{"field":"x","type":"quantitative","scale":{"domain":[-0.5,0.5],"nice":false,"zero":false},"axis":{"values":[-0.5,0,0.5],"format":".1f","offset":6,"title":null}},
    "y":{"field":"y","type":"quantitative","scale":{"domain":[-0.5,0.5],"nice":false,"zero":false},"axis":{"values":[-0.5,0,0.5],"format":".1f","offset":6,"title":null}},
    "x2":{"field":"x2"},"y2":{"field":"y2"},
    "color":{"field":"l","type":"quantitative","scale":{"scheme":"viridis","domain":[1,64]},"legend":null}}},
  {"width":147,"height":147,"data":{"name":"traj"},
   "transform":[{"filter":"datum.p==3"},{"window":[{"op":"lead","field":"x","as":"x2"},{"op":"lead","field":"y","as":"y2"}],"sort":[{"field":"l"}]},{"filter":"isValid(datum.x2)"}],
   "mark":{"type":"rule","strokeWidth":2,"strokeCap":"round","opacity":0.8},
   "encoding":{"x":{"field":"x","type":"quantitative","scale":{"domain":[-0.5,0.5],"nice":false,"zero":false},"axis":{"values":[-0.5,0,0.5],"format":".1f","offset":6,"title":null}},
    "y":{"field":"y","type":"quantitative","scale":{"domain":[-0.5,0.5],"nice":false,"zero":false},"axis":{"values":[-0.5,0,0.5],"format":".1f","offset":6,"title":null}},
    "x2":{"field":"x2"},"y2":{"field":"y2"},
    "color":{"field":"l","type":"quantitative","scale":{"scheme":"viridis","domain":[1,64]},"legend":null}}},
  {"width":147,"height":147,"data":{"name":"traj"},
   "transform":[{"filter":"datum.p==4"},{"window":[{"op":"lead","field":"x","as":"x2"},{"op":"lead","field":"y","as":"y2"}],"sort":[{"field":"l"}]},{"filter":"isValid(datum.x2)"}],
   "mark":{"type":"rule","strokeWidth":2,"strokeCap":"round","opacity":0.8},
   "encoding":{"x":{"field":"x","type":"quantitative","scale":{"domain":[-0.5,0.5],"nice":false,"zero":false},"axis":{"values":[-0.5,0,0.5],"format":".1f","offset":6,"title":null}},
    "y":{"field":"y","type":"quantitative","scale":{"domain":[-0.5,0.5],"nice":false,"zero":false},"axis":{"values":[-0.5,0,0.5],"format":".1f","offset":6,"title":null}},
    "x2":{"field":"x2"},"y2":{"field":"y2"},
    "color":{"field":"l","type":"quantitative","scale":{"scheme":"viridis","domain":[1,64]},"legend":null}}}
 ],"spacing":87,"bounds":"flush"},
 {"hconcat":[
  {"hconcat":[
   {"width":147,"height":147,"data":{"name":"traj"},
    "transform":[{"filter":"datum.p==5"},{"window":[{"op":"lead","field":"x","as":"x2"},{"op":"lead","field":"y","as":"y2"}],"sort":[{"field":"l"}]},{"filter":"isValid(datum.x2)"}],
    "mark":{"type":"rule","strokeWidth":2,"strokeCap":"round","opacity":0.8},
    "encoding":{"x":{"field":"x","type":"quantitative","scale":{"domain":[-0.5,0.5],"nice":false,"zero":false},"axis":{"values":[-0.5,0,0.5],"format":".1f","offset":6,"title":"Mean Activation","titleFontSize":20,"titlePadding":18}},
     "y":{"field":"y","type":"quantitative","scale":{"domain":[-0.5,0.5],"nice":false,"zero":false},"axis":{"values":[-0.5,0,0.5],"format":".1f","offset":6,"title":"Gradient of Mean Activation","titleFontSize":21,"titlePadding":15,"titleY":-35}},
     "x2":{"field":"x2"},"y2":{"field":"y2"},
     "color":{"field":"l","type":"quantitative","scale":{"scheme":"viridis","domain":[1,64]},"legend":null}}},
   {"width":147,"height":147,"data":{"name":"traj"},
    "transform":[{"filter":"datum.p==6"},{"window":[{"op":"lead","field":"x","as":"x2"},{"op":"lead","field":"y","as":"y2"}],"sort":[{"field":"l"}]},{"filter":"isValid(datum.x2)"}],
    "mark":{"type":"rule","strokeWidth":2,"strokeCap":"round","opacity":0.8},
    "encoding":{"x":{"field":"x","type":"quantitative","scale":{"domain":[-0.5,0.5],"nice":false,"zero":false},"axis":{"values":[-0.5,0,0.5],"format":".1f","offset":6,"title":"Mean Activation","titleFontSize":20,"titlePadding":18}},
     "y":{"field":"y","type":"quantitative","scale":{"domain":[-0.5,0.5],"nice":false,"zero":false},"axis":{"values":[-0.5,0,0.5],"format":".1f","offset":6,"title":null}},
     "x2":{"field":"x2"},"y2":{"field":"y2"},
     "color":{"field":"l","type":"quantitative","scale":{"scheme":"viridis","domain":[1,64]},"legend":null}}},
   {"width":147,"height":147,"data":{"name":"traj"},
    "transform":[{"filter":"datum.p==7"},{"window":[{"op":"lead","field":"x","as":"x2"},{"op":"lead","field":"y","as":"y2"}],"sort":[{"field":"l"}]},{"filter":"isValid(datum.x2)"}],
    "mark":{"type":"rule","strokeWidth":2,"strokeCap":"round","opacity":0.8},
    "encoding":{"x":{"field":"x","type":"quantitative","scale":{"domain":[-0.5,0.5],"nice":false,"zero":false},"axis":{"values":[-0.5,0,0.5],"format":".1f","offset":6,"title":"Mean Activation","titleFontSize":20,"titlePadding":18}},
     "y":{"field":"y","type":"quantitative","scale":{"domain":[-0.5,0.5],"nice":false,"zero":false},"axis":{"values":[-0.5,0,0.5],"format":".1f","offset":6,"title":null}},
     "x2":{"field":"x2"},"y2":{"field":"y2"},
     "color":{"field":"l","type":"quantitative","scale":{"scheme":"viridis","domain":[1,64]},"legend":null}}},
   {"width":147,"height":147,"data":{"name":"traj"},
    "transform":[{"filter":"datum.p==8"},{"window":[{"op":"lead","field":"x","as":"x2"},{"op":"lead","field":"y","as":"y2"}],"sort":[{"field":"l"}]},{"filter":"isValid(datum.x2)"}],
    "mark":{"type":"rule","strokeWidth":2,"strokeCap":"round","opacity":0.8},
    "encoding":{"x":{"field":"x","type":"quantitative","scale":{"domain":[-0.5,0.5],"nice":false,"zero":false},"axis":{"values":[-0.5,0,0.5],"format":".1f","offset":6,"title":"Mean Activation","titleFontSize":20,"titlePadding":18}},
     "y":{"field":"y","type":"quantitative","scale":{"domain":[-0.5,0.5],"nice":false,"zero":false},"axis":{"values":[-0.5,0,0.5],"format":".1f","offset":6,"title":null}},
     "x2":{"field":"x2"},"y2":{"field":"y2"},
     "color":{"field":"l","type":"quantitative","scale":{"scheme":"viridis","domain":[1,64]},"legend":null}}}
  ],"spacing":87,"bounds":"flush"},
  {"width":6,"height":147,"data":{"name":"traj"},
   "transform":[{"filter":"datum.p==1"}],
   "layer":[
    {"mark":{"type":"tick","orient":"horizontal","thickness":2.5,"size":6,"opacity":1},
     "encoding":{"y":{"field":"l","type":"quantitative","scale":{"domain":[-2.57,61.88],"nice":false,"zero":false},"axis":{"orient":"right","title":"Layer","labels":false,"ticks":false,"domain":false,"titleAngle":270,"titleBaseline":"top","titlePadding":6,"titleFontSize":20}},
      "color":{"field":"l","type":"quantitative","scale":{"scheme":"viridis","domain":[1,64]},"legend":null}}},
    {"transform":[{"filter":"datum.l==64"}],"mark":{"type":"text","dy":-8,"baseline":"alphabetic","fontSize":15,"color":"#000"},
     "encoding":{"y":{"field":"l","type":"quantitative"},"text":{"field":"l","type":"quantitative"}}},
    {"transform":[{"filter":"datum.l==1"}],"mark":{"type":"text","dy":21,"baseline":"alphabetic","fontSize":15,"color":"#000"},
     "encoding":{"y":{"field":"l","type":"quantitative"},"text":{"field":"l","type":"quantitative"}}}
   ]}
 ],"spacing":865,"bounds":"flush"}
],"spacing":235,"bounds":"flush"},
{"vconcat":[
 {"width":200,"height":140,"data":{"name":"hist"},"title":{"text":"b","dx":-70,"offset":11},
  "mark":{"type":"rect"},
  "encoding":{
   "x":{"field":"b0","type":"quantitative","scale":{"domain":[-1.1,21.1],"range":[-24,200],"nice":false,"zero":false},"axis":{"values":[0,10,20],"offset":5,"labelFontSize":16,"labelPadding":10,"title":"Number of Spiral Rotations","titlePadding":4}},
   "x2":{"field":"b1"},
   "y":{"field":"n","type":"quantitative","scale":{"domain":[0,1000],"nice":false},"axis":{"domain":false,"ticks":false,"labels":false,"title":"Frequency","titlePadding":35,"titleY":63}},
   "y2":{"datum":0},
   "color":{"field":"g","type":"nominal","scale":{"domain":["Actual","Shuffled"],"range":["#b5d6d8","#8b8d9d"]},
    "legend":{"title":null,"orient":"none","legendX":94,"legendY":-2,"symbolType":"M-0.8,-0.5H2.8V0.5H-0.8Z","symbolSize":256,"symbolStrokeWidth":0,"symbolOpacity":1,"labelFontSize":15,"labelFont":"Liberation Sans","labelColor":"#000","labelOffset":24,"padding":6,"rowPadding":4,"strokeColor":"#cccccc","cornerRadius":4,"fillColor":"white"}}}},
 {"width":222,"height":147,"data":{"name":"units"},"view":{"stroke":"#000","strokeWidth":1.5},"title":{"text":"c","dx":-70,"offset":18},
  "encoding":{"x":{"field":"u","type":"quantitative","scale":{"domain":[-210,4320],"nice":false,"zero":false},"axis":{"values":[0,2000,4000],"format":"d","domain":false,"labelFontSize":16,"labelPadding":10,"title":"Unit","titlePadding":8}}},
  "layer":[
   {"mark":{"type":"line","color":"#a9cdd0","strokeWidth":2.2},
    "encoding":{"y":{"field":"a","type":"quantitative","title":"Number of Spiral Rotations","scale":{"domain":[-1.23,17.4],"nice":false,"zero":false},"axis":{"values":[0,5,10,15],"domain":false,"labelFontSize":16,"labelPadding":4,"titlePadding":6,"titleY":68}}}},
   {"mark":{"type":"line","color":"#54566b","strokeWidth":2},
    "encoding":{"y":{"field":"s","type":"quantitative","title":"Number of Spiral Rotations"}}}
  ]}
],"spacing":154,"bounds":"flush"}
],
"spacing":971,
"bounds":"flush"
}
